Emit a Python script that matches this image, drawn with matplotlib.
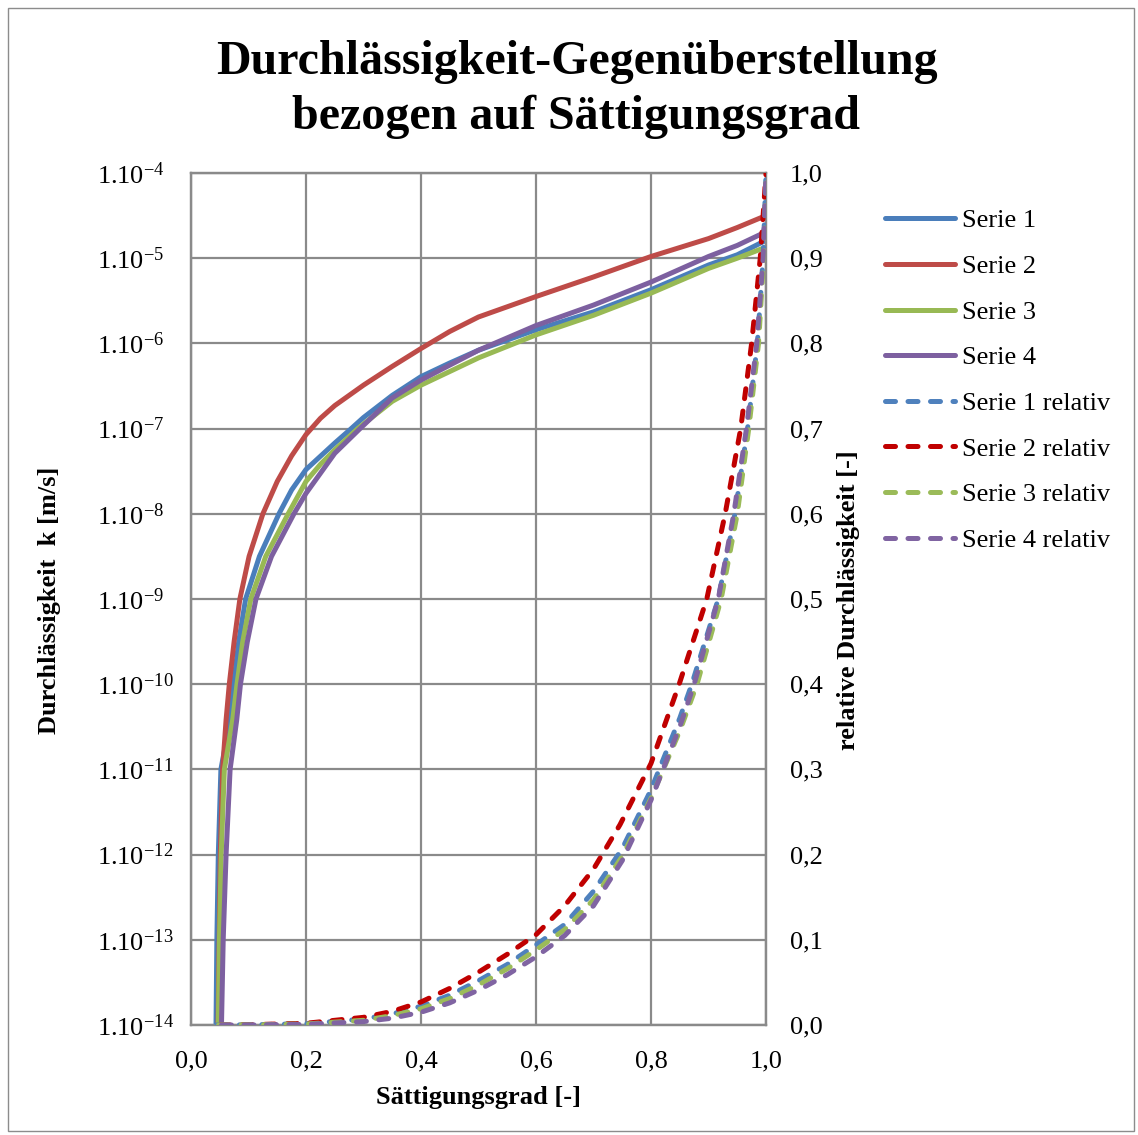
import matplotlib
matplotlib.use("Agg")
import matplotlib.pyplot as plt
from matplotlib.patches import Rectangle

plt.rcParams['font.family'] = ['Liberation Serif', 'DejaVu Serif']
plt.rcParams['mathtext.fontset'] = 'custom'
plt.rcParams['mathtext.rm'] = 'Liberation Serif'
plt.rcParams['mathtext.it'] = 'Liberation Serif:italic'
plt.rcParams['mathtext.bf'] = 'Liberation Serif:bold'

# ---------------- data ----------------
# absolute permeability (log10 k) vs saturation
s1_S = [0.0435, 0.045, 0.0475, 0.052, 0.068, 0.074, 0.083, 0.095, 0.119, 0.153, 0.175, 0.2, 0.25, 0.277, 0.3, 0.35, 0.4, 0.45, 0.5, 0.6, 0.7, 0.8, 0.9, 0.95, 1.0]
s1_logk = [-14, -13, -12, -11, -10.42, -10, -9.5, -9, -8.5, -8, -7.72, -7.48, -7.17, -7.01, -6.87, -6.61, -6.39, -6.23, -6.08, -5.84, -5.63, -5.37, -5.08, -4.96, -4.79]

s2_S = [0.047, 0.049, 0.051, 0.055, 0.061, 0.0666, 0.075, 0.085, 0.101, 0.125, 0.15, 0.175, 0.2, 0.225, 0.25, 0.275, 0.3, 0.35, 0.4, 0.45, 0.5, 0.6, 0.7, 0.8, 0.9, 0.95, 1.0]
s2_logk = [-14, -13, -12, -11, -10.42, -10, -9.5, -9, -8.5, -8, -7.62, -7.32, -7.07, -6.88, -6.73, -6.61, -6.49, -6.27, -6.06, -5.86, -5.69, -5.45, -5.22, -4.98, -4.77, -4.64, -4.50]

s3_S = [0.0475, 0.0495, 0.0525, 0.058, 0.0725, 0.080, 0.090, 0.104, 0.130, 0.169, 0.2, 0.225, 0.25, 0.29, 0.35, 0.4, 0.5, 0.6, 0.7, 0.8, 0.9, 0.95, 1.0]
s3_logk = [-14, -13, -12, -11, -10.42, -10, -9.5, -9, -8.5, -8, -7.62, -7.42, -7.25, -7, -6.68, -6.49, -6.17, -5.90, -5.67, -5.41, -5.12, -5.0, -4.87]

s4_S = [0.053, 0.056, 0.061, 0.068, 0.0795, 0.086, 0.098, 0.113, 0.140, 0.179, 0.2, 0.25, 0.294, 0.35, 0.4, 0.5, 0.6, 0.7, 0.8, 0.9, 0.95, 1.0]
s4_logk = [-14, -13, -12, -11, -10.42, -10, -9.5, -9, -8.5, -8, -7.76, -7.29, -7, -6.64, -6.43, -6.08, -5.79, -5.55, -5.28, -4.98, -4.85, -4.69]

# relative permeability vs saturation
r1_S = [0.045, 0.1, 0.2, 0.3, 0.35, 0.4, 0.45, 0.5, 0.55, 0.6, 0.65, 0.7, 0.75, 0.8, 0.85, 0.871, 0.917, 0.946, 0.968, 0.985, 0.995, 1.0]
r1_k = [0, 0.0002, 0.0015, 0.007, 0.013, 0.022, 0.035, 0.052, 0.071, 0.094, 0.118, 0.157, 0.207, 0.276, 0.36, 0.40, 0.50, 0.60, 0.70, 0.80, 0.90, 1.0]

r2_S = [0.05, 0.1, 0.2, 0.3, 0.35, 0.4, 0.45, 0.5, 0.55, 0.6, 0.65, 0.7, 0.746, 0.8, 0.849, 0.897, 0.929, 0.956, 0.975, 0.99, 1.0]
r2_k = [0, 0.0003, 0.002, 0.009, 0.016, 0.027, 0.043, 0.062, 0.083, 0.106, 0.140, 0.183, 0.235, 0.307, 0.40, 0.50, 0.60, 0.70, 0.80, 0.90, 1.0]

r3_S = [0.048, 0.1, 0.2, 0.3, 0.35, 0.4, 0.45, 0.5, 0.55, 0.6, 0.65, 0.7, 0.75, 0.8, 0.85, 0.880, 0.922, 0.95, 0.97, 0.987, 0.996, 1.0]
r3_k = [0, 0.0002, 0.0012, 0.0055, 0.011, 0.019, 0.031, 0.047, 0.066, 0.088, 0.112, 0.147, 0.198, 0.266, 0.345, 0.40, 0.50, 0.60, 0.70, 0.80, 0.90, 1.0]

r4_S = [0.053, 0.1, 0.2, 0.3, 0.35, 0.4, 0.45, 0.5, 0.55, 0.6, 0.65, 0.7, 0.75, 0.8, 0.85, 0.875, 0.917, 0.944, 0.966, 0.984, 0.995, 1.0]
r4_k = [0, 0.0001, 0.0008, 0.004, 0.008, 0.015, 0.026, 0.041, 0.059, 0.080, 0.105, 0.140, 0.193, 0.264, 0.35, 0.40, 0.50, 0.60, 0.70, 0.80, 0.90, 1.0]

labels_abs = ['Serie 1', 'Serie 2', 'Serie 3', 'Serie 4']
labels_rel = ['Serie 1 relativ', 'Serie 2 relativ', 'Serie 3 relativ', 'Serie 4 relativ']
left_exponents = [-14, -13, -12, -11, -10, -9, -8, -7, -6, -5, -4]
right_ticks = [0.0, 0.1, 0.2, 0.3, 0.4, 0.5, 0.6, 0.7, 0.8, 0.9, 1.0]
x_ticks = [0.0, 0.2, 0.4, 0.6, 0.8, 1.0]

solid_colors = ['#4A7EBB', '#BE4B48', '#98B954', '#7D60A0']
dash_colors = ['#4F81BD', '#C00000', '#9BBB59', '#8064A2']

# ---------------- figure ----------------
W, H = 1138, 1135
fig = plt.figure(figsize=(W / 100, H / 100), dpi=100)
fig.patches.append(Rectangle((8 / W, 4 / H), 1126 / W, 1123 / H, transform=fig.transFigure,
                             fill=False, edgecolor='#8C8C8C', linewidth=1.0))

ax = fig.add_axes([191 / W, 1 - 1025 / H, 575 / W, 852 / H])
grid_c = '#8A8A8A'
lw = 3.6

abs_S = [s1_S, s2_S, s3_S, s4_S]
abs_k = [s1_logk, s2_logk, s3_logk, s4_logk]
for S, lk, c, lab in zip(abs_S, abs_k, solid_colors, labels_abs):
    ax.plot(S, [10.0 ** v for v in lk], color=c, lw=lw, solid_capstyle='round',
            solid_joinstyle='round', label=lab, zorder=3)

ax.set_yscale('log')
ax.set_ylim(1e-14, 1e-4)
ax.set_xlim(0, 1)
ax.set_yticks([10.0 ** e for e in left_exponents])
ax.set_yticklabels([r'$\mathregular{1.10^{%d}}$' % e for e in left_exponents])
ax.minorticks_off()
ax.set_xticks(x_ticks)
ax.set_xticklabels([('%.1f' % v).replace('.', ',') for v in x_ticks])
ax.grid(True, which='major', color=grid_c, lw=1.6)
ax.tick_params(axis='y', length=0, pad=68, labelsize=19)
ax.tick_params(axis='x', length=0, pad=18, labelsize=19)
for lab in ax.get_yticklabels():
    lab.set_horizontalalignment('left')
for sp in ax.spines.values():
    sp.set_color(grid_c)
    sp.set_linewidth(1.6)

ax2 = ax.twinx()
rel_S = [r1_S, r2_S, r3_S, r4_S]
rel_k = [r1_k, r2_k, r3_k, r4_k]
for S, k, c, lab in zip(rel_S, rel_k, dash_colors, labels_rel):
    ax2.plot(S, k, color=c, lw=lw, dashes=(2.0, 2.5), dash_capstyle='round',
             dash_joinstyle='round', label=lab, zorder=4)
ax2.set_ylim(0, 1)
ax2.set_yticks(right_ticks)
ax2.set_yticklabels([('%.1f' % v).replace('.', ',') for v in right_ticks])
ax2.tick_params(axis='y', length=0, pad=17, labelsize=19)
for sp in ax2.spines.values():
    sp.set_color(grid_c)
    sp.set_linewidth(1.6)

ax.set_xlabel('Sättigungsgrad [-]', fontsize=19, fontweight='bold', labelpad=10)
fig.text(50 / W, 1 - 600 / H, 'Durchlässigkeit  k [m/s]', rotation=90, fontsize=19,
         fontweight='bold', ha='center', va='center')
fig.text(848 / W, 1 - 600 / H, 'relative Durchlässigkeit [-]', rotation=90, fontsize=19,
         fontweight='bold', ha='center', va='center')

fig.text(577 / W, 1 - 62 / H, 'Durchlässigkeit-Gegenüberstellung', fontsize=34.6,
         fontweight='bold', ha='center', va='center')
fig.text(576 / W, 1 - 117 / H, 'bezogen auf Sättigungsgrad', fontsize=34.6,
         fontweight='bold', ha='center', va='center')

h1, l1 = ax.get_legend_handles_labels()
h2, l2 = ax2.get_legend_handles_labels()
fig.legend(h1 + h2, l1 + l2, loc='upper left', bbox_to_anchor=(885 / W, 1 - 209 / H),
           frameon=False, fontsize=19, handlelength=2.65, handletextpad=0.25,
           labelspacing=0.84, borderpad=0, borderaxespad=0)

fig.savefig('out.png', dpi=100)
